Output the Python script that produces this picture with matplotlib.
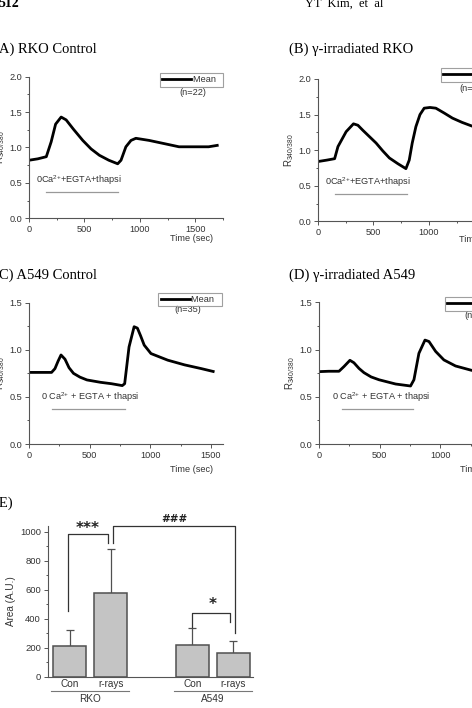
import numpy as np
import matplotlib
matplotlib.use('Agg')
import matplotlib.pyplot as plt
from matplotlib.lines import Line2D
from matplotlib.ticker import MultipleLocator

plt.rcParams['mathtext.default'] = 'regular'
plt.rcParams['mathtext.fontset'] = 'custom'
plt.rcParams['mathtext.rm'] = 'Liberation Sans'

# --- calcium traces (time in sec, R340/380) ---
tA = [0, 80, 156, 200, 240, 290, 335, 400, 485, 560, 635, 720, 800, 830, 874, 920, 964, 1084, 1234, 1353, 1450, 1533, 1620, 1698]
rA = [0.82, 0.84, 0.87, 1.08, 1.33, 1.43, 1.39, 1.26, 1.10, 0.98, 0.89, 0.82, 0.77, 0.82, 1.01, 1.10, 1.13, 1.10, 1.05, 1.01, 1.01, 1.01, 1.01, 1.03]

tB = [0, 80, 150, 180, 254, 320, 360, 404, 464, 524, 584, 644, 720, 793, 823, 850, 883, 920, 958, 1010, 1063, 1140, 1213, 1300, 1386, 1500, 1700]
rB = [0.84, 0.86, 0.88, 1.05, 1.26, 1.37, 1.35, 1.28, 1.19, 1.10, 0.99, 0.89, 0.81, 0.74, 0.86, 1.10, 1.33, 1.50, 1.59, 1.60, 1.59, 1.52, 1.45, 1.39, 1.34, 1.28, 1.22]

tC = [0, 100, 186, 214, 240, 264, 297, 330, 367, 420, 478, 589, 680, 769, 789, 825, 867, 894, 920, 950, 1006, 1144, 1283, 1422, 1519]
rC = [0.76, 0.76, 0.76, 0.80, 0.88, 0.945, 0.90, 0.81, 0.75, 0.71, 0.68, 0.655, 0.64, 0.62, 0.64, 1.03, 1.245, 1.23, 1.15, 1.05, 0.96, 0.89, 0.84, 0.80, 0.77]

tD = [0, 80, 165, 206, 255, 288, 330, 371, 430, 495, 632, 755, 783, 824, 874, 907, 962, 1030, 1126, 1258, 1400, 1550]
rD = [0.766, 0.77, 0.77, 0.82, 0.886, 0.86, 0.80, 0.755, 0.71, 0.68, 0.635, 0.614, 0.68, 0.96, 1.10, 1.085, 0.98, 0.89, 0.826, 0.78, 0.76, 0.75]

n_cells = ['(n=22)', '(n=24)', '(n=35)', '(n=30)']

# --- panel E: area under curve ---
groups = ['RKO', 'A549']
conds = ['Con', 'r-rays', 'Con', 'r-rays']
area = [211, 575, 218, 166]
area_err = [111, 303, 120, 82]

W, H = 472, 708
fig = plt.figure(figsize=(W / 100, H / 100), dpi=100)
fig.patch.set_facecolor('white')

SANS = 'Liberation Sans'
SERIF = 'Liberation Serif'
GREY = '#555555'
TXT = '#333333'
FS = 6.6


def px_axes(l, t, r, b):
    return fig.add_axes([l / W, 1 - b / H, (r - l) / W, (b - t) / H])


def style(ax):
    for s in ['top', 'right']:
        ax.spines[s].set_visible(False)
    for s in ['left', 'bottom']:
        ax.spines[s].set_color(GREY)
        ax.spines[s].set_linewidth(0.8)
    ax.tick_params(which='both', direction='out', colors=GREY, labelcolor=TXT,
                   labelsize=FS, width=0.7, pad=2)
    ax.tick_params(which='major', length=3)
    ax.tick_params(which='minor', length=1.5)
    for lab in ax.get_xticklabels() + ax.get_yticklabels():
        lab.set_family(SANS)


def trace_panel(ax, t, r, xmax, ymax, solution, sol_y, bar_x, n_txt, leg_anchor, n_pos):
    ax.plot(t, r, color='black', lw=2, solid_joinstyle='round')
    ax.set_xlim(0, xmax)
    ax.set_ylim(0, ymax)
    ax.xaxis.set_major_locator(MultipleLocator(500))
    ax.xaxis.set_minor_locator(MultipleLocator(250))
    ax.yaxis.set_minor_locator(MultipleLocator(0.25))
    yt = np.arange(0, ymax + 0.01, 0.5)
    ax.set_yticks(yt)
    ax.set_yticklabels(['%.1f' % v for v in yt])
    style(ax)
    ax.set_ylabel(r'R$_{340/380}$', fontsize=7, family=SANS, color=TXT, labelpad=2)
    ax.text(bar_x[0] - 0.14 * (bar_x[1] - bar_x[0]), sol_y, solution, fontsize=FS,
            family=SANS, color=TXT, va='bottom')
    ax.plot(bar_x, [sol_y - 0.035 * ymax] * 2, color='#999999', lw=0.9)
    h = Line2D([], [], color='black', lw=2)
    leg = ax.legend([h], ['Mean  '], loc='upper right', bbox_to_anchor=leg_anchor,
                    frameon=True, fancybox=False, borderpad=0.25,
                    handlelength=3.2, handletextpad=0.15, borderaxespad=0,
                    prop={'family': SANS, 'size': FS})
    leg.get_frame().set_edgecolor('#888888')
    leg.get_frame().set_linewidth(0.8)
    for tx in leg.get_texts():
        tx.set_color(TXT)
    ax.text(n_pos[0], n_pos[1], n_txt, transform=ax.transAxes, fontsize=FS,
            family=SANS, color=TXT, ha='center', va='center')


# header
fig.text(-2 / W, 1 - 7 / H, '512', fontsize=10, fontweight='bold', family=SERIF, va='baseline')
fig.text(305 / W, 1 - 7 / H, 'YT  Kim,  et  al', fontsize=9, family=SERIF, va='baseline')

# titles
fig.text(-6 / W, 1 - 53 / H, '(A) RKO Control', fontsize=10.5, family=SERIF, va='baseline')
fig.text(289 / W, 1 - 53 / H, '(B) γ-irradiated RKO', fontsize=10.5, family=SERIF, va='baseline')
fig.text(-6 / W, 1 - 279 / H, '(C) A549 Control', fontsize=10.5, family=SERIF, va='baseline')
fig.text(289 / W, 1 - 279 / H, '(D) γ-irradiated A549', fontsize=10.5, family=SERIF, va='baseline')
fig.text(-6 / W, 1 - 507 / H, '(E)', fontsize=10.5, family=SERIF, va='baseline')

sol1 = '0Ca$^{2{+}}$+EGTA+thapsi'
sol2 = '0 Ca$^{2{+}}$ + EGTA + thapsi'

axA = px_axes(29, 76.7, 223, 218.3)
trace_panel(axA, tA, rA, 1750, 2.0, sol1, 0.44, [156, 800],
            n_cells[0], (1.0, 1.025), (0.845, 0.885))
axB = px_axes(318, 79, 512, 221.3)
trace_panel(axB, tB, rB, 1750, 2.0, sol1, 0.45, [156, 800],
            n_cells[1], (0.959, 1.077), (0.80, 0.93))
axC = px_axes(29, 302.7, 223, 444)
trace_panel(axC, tC, rC, 1600, 1.5, sol2, 0.42, [186, 789],
            n_cells[2], (0.993, 1.072), (0.82, 0.95))
axD = px_axes(319, 302.3, 513, 444)
trace_panel(axD, tD, rD, 1600, 1.5, sol2, 0.425, [187, 778],
            n_cells[3], (0.974, 1.035), (0.82, 0.91))

for ax, y in [(axA, 238), (axB, 240), (axC, 469), (axD, 469)]:
    bb = ax.get_position()
    fig.text(bb.x1 - 10 / W, 1 - y / H, 'Time (sec)', fontsize=FS, family=SANS,
             color=TXT, ha='right', va='center')

# --- panel E ---
axE = px_axes(48, 525.9, 253, 676.7)
xpos = np.array([1, 2, 4, 5])
bw = 0.81
axE.bar(xpos, area, width=bw, color='#c4c4c4', edgecolor='#505050', linewidth=1.1, zorder=2)
axE.errorbar(xpos, area, yerr=[np.zeros(4), area_err], fmt='none', ecolor='#505050',
             elinewidth=0.9, capsize=3.2, capthick=0.9, zorder=1)
axE.set_xlim(0.47, 5.48)
axE.set_ylim(0, 1040)
axE.yaxis.set_major_locator(MultipleLocator(200))
axE.yaxis.set_minor_locator(MultipleLocator(100))
axE.set_xticks(xpos)
axE.set_xticklabels(conds)
style(axE)
axE.tick_params(axis='x', length=0, labelsize=7.2, pad=2)
axE.tick_params(axis='y', labelsize=6.8)
axE.set_ylabel('Area (A.U.)', fontsize=7.2, family=SANS, color=TXT, labelpad=3)

# group labels with underline
for gi, g in enumerate(groups):
    c = xpos[2 * gi:2 * gi + 2]
    axE.plot([c[0] - bw / 2 - 0.05, c[1] + bw / 2 + 0.05], [-0.097 * 1040] * 2,
             color='#777777', lw=0.8, clip_on=False)
    axE.text(c.mean(), -0.145 * 1040, g, ha='center', va='center', fontsize=7.2,
             family=SANS, color=TXT, clip_on=False)


def bracket(x0, x1, y, y0, y1, label, tx, ty, fs):
    axE.plot([x0, x0, x1, x1], [y0, y, y, y1], color='#333333', lw=0.9, clip_on=False)
    axE.text(tx, ty, label, ha='center', va='center', fontsize=fs,
             fontweight='bold', color='#222222', clip_on=False)


top = np.array(area) + np.array(area_err)
bracket(xpos[0] - 0.04, xpos[1] - 0.07, 982, 455, top[1] + 42, '***',
        xpos[0] + 0.45, 1020, 11)
bracket(xpos[1] + 0.07, xpos[3] + 0.04, 1039, top[1] + 42, top[3] + 55, '###',
        (xpos[1] + xpos[3]) / 2 + 0.05, 1087, 7.5)
bracket(xpos[2], xpos[3] - 0.08, 437, top[2] + 7, top[3] + 131, '*',
        (xpos[2] + xpos[3]) / 2, 497, 11)

fig.savefig('out.png', dpi=100)
